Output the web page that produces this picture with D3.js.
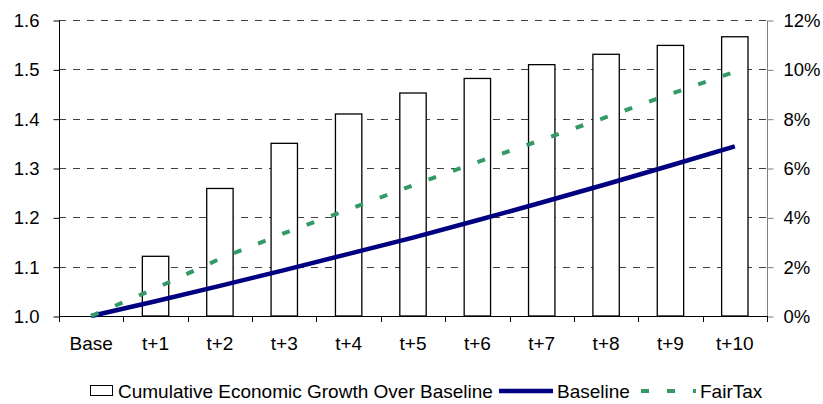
<!DOCTYPE html>
<html>
<head>
<meta charset="utf-8">
<script src="https://cdnjs.cloudflare.com/ajax/libs/d3/7.8.5/d3.min.js"></script>
<style>
  body { margin: 0; background: #fff; }
  svg { display: block; font-family: Arial, "Liberation Sans", sans-serif; }
</style>
</head>
<body>
<svg width="823" height="404"></svg>
<script>
const categories = ["Base", "t+1", "t+2", "t+3", "t+4", "t+5", "t+6", "t+7", "t+8", "t+9", "t+10"];
// cumulative growth over baseline, percent (right axis)
const growth = [0, 2.42, 5.17, 7.0, 8.19, 9.04, 9.63, 10.19, 10.61, 10.97, 11.32];
// index levels (left axis)
const baseline = [1.0, 1.03, 1.061, 1.093, 1.126, 1.159, 1.194, 1.23, 1.267, 1.305, 1.344];
const fairtax = [1.0, 1.056, 1.116, 1.168, 1.216, 1.265, 1.312, 1.357, 1.403, 1.45, 1.495];
const leftTicks = [1.0, 1.1, 1.2, 1.3, 1.4, 1.5, 1.6];
const rightTicks = [0, 2, 4, 6, 8, 10, 12];

const svg = d3.select("svg");
const plotLeft = 59, plotRight = 767, plotTop = 20, plotBottom = 316;

const x = d3.scaleBand().domain(categories).range([plotLeft, plotRight]);
const yL = d3.scaleLinear().domain([1.0, 1.6]).range([plotBottom, plotTop]);
const yR = d3.scaleLinear().domain([0, 12]).range([plotBottom, plotTop]);
const cx = d => x(d) + x.bandwidth() / 2;

// gridlines
svg.append("g")
  .selectAll("line")
  .data(leftTicks.slice(1))
  .enter()
  .append("line")
  .attr("x1", plotLeft).attr("x2", plotRight)
  .attr("y1", d => Math.round(yL(d)) + 0.5).attr("y2", d => Math.round(yL(d)) + 0.5)
  .attr("stroke", "#404040")
  .attr("stroke-width", 1)
  .attr("stroke-dasharray", "7,7");

// bars
const bars = categories.map((c, i) => ({ cat: c, value: growth[i] })).filter(d => d.value > 0);
const bw = x.bandwidth() * 0.41;
svg.append("g")
  .selectAll("rect")
  .data(bars)
  .enter()
  .append("rect")
  .attr("x", d => cx(d.cat) - bw / 2)
  .attr("y", d => yR(d.value))
  .attr("width", bw)
  .attr("height", d => plotBottom - yR(d.value))
  .attr("fill", "#fff")
  .attr("stroke", "#000")
  .attr("stroke-width", 1.3);

// left axis
const axL = svg.append("g")
  .attr("transform", `translate(${plotLeft + 0.5},0.5)`)
  .call(d3.axisLeft(yL).tickValues(leftTicks).tickFormat(d3.format(".1f")).tickSize(6).tickPadding(14));
axL.select(".domain").attr("stroke", "#000").attr("d", `M0,${plotTop}V${plotBottom}`);
axL.selectAll("text").style("font-size", "18.5px").attr("fill", "#000");

// right axis
const axR = svg.append("g")
  .attr("transform", `translate(${plotRight + 0.5},0.5)`)
  .call(d3.axisRight(yR).tickValues(rightTicks).tickFormat(d => d + "%").tickSize(6).tickPadding(10));
axR.select(".domain").attr("stroke", "#808080").attr("d", `M0,${plotTop}V${plotBottom}`);
axR.selectAll(".tick line").attr("stroke", "#808080");
axR.selectAll("text").style("font-size", "18.5px").attr("fill", "#000");

// bottom axis
svg.append("line")
  .attr("x1", plotLeft).attr("x2", plotRight + 1)
  .attr("y1", plotBottom + 0.5).attr("y2", plotBottom + 0.5)
  .attr("stroke", "#000");
svg.append("g")
  .selectAll("line")
  .data(d3.range(categories.length + 1))
  .enter()
  .append("line")
  .attr("x1", i => Math.round(plotLeft + i * x.step()) + 0.5)
  .attr("x2", i => Math.round(plotLeft + i * x.step()) + 0.5)
  .attr("y1", plotBottom).attr("y2", plotBottom + 6)
  .attr("stroke", "#000");
svg.append("g")
  .selectAll("text")
  .data(categories)
  .enter()
  .append("text")
  .attr("x", cx)
  .attr("y", 350)
  .attr("text-anchor", "middle")
  .style("font-size", "19px")
  .text(d => d);

// lines
const lineL = d3.line()
  .x((d, i) => cx(categories[i]))
  .y(d => yL(d));

svg.append("path")
  .attr("d", lineL(baseline))
  .attr("fill", "none")
  .attr("stroke", "#000080")
  .attr("stroke-width", 4.5);

svg.append("path")
  .attr("d", lineL(fairtax))
  .attr("fill", "none")
  .attr("stroke", "#339966")
  .attr("stroke-width", 4)
  .attr("stroke-dasharray", "8,18");

// legend
const lg = svg.append("g");
const ly = 391;
lg.append("rect")
  .attr("x", 90.5).attr("y", ly - 5.5)
  .attr("width", 22).attr("height", 10)
  .attr("fill", "#fff").attr("stroke", "#000");
lg.append("text").attr("x", 118).attr("y", ly + 7).style("font-size", "19px")
  .text("Cumulative Economic Growth Over Baseline");
lg.append("line")
  .attr("x1", 499).attr("x2", 553).attr("y1", ly).attr("y2", ly)
  .attr("stroke", "#000080").attr("stroke-width", 4.5);
lg.append("text").attr("x", 557).attr("y", ly + 7).style("font-size", "19px")
  .text("Baseline");
lg.append("line")
  .attr("x1", 641).attr("x2", 696).attr("y1", ly).attr("y2", ly)
  .attr("stroke", "#339966").attr("stroke-width", 4)
  .attr("stroke-dasharray", "8,18");
lg.append("text").attr("x", 700).attr("y", ly + 7).style("font-size", "19px")
  .text("FairTax");
</script>
</body>
</html>
